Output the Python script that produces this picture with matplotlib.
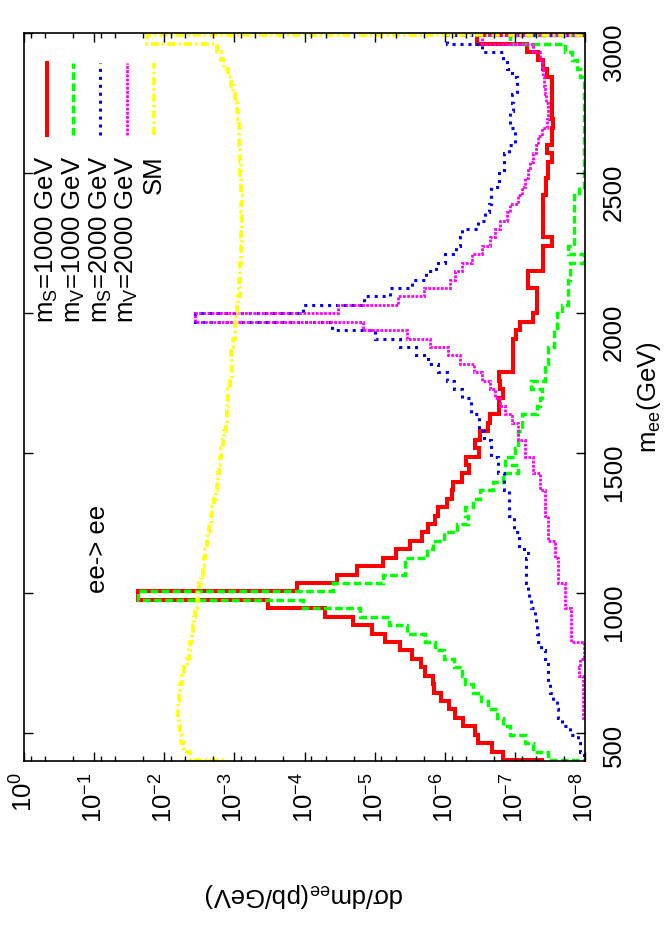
import numpy as np
import matplotlib
matplotlib.use('Agg')
import matplotlib.pyplot as plt
from matplotlib.ticker import LogLocator, MultipleLocator, NullFormatter, LogFormatterMathtext

plt.rcParams['font.family'] = ['Liberation Sans', 'DejaVu Sans']
plt.rcParams['mathtext.fontset'] = 'custom'
plt.rcParams['mathtext.rm'] = 'Liberation Sans'
plt.rcParams['mathtext.it'] = 'Liberation Sans'
plt.rcParams['mathtext.bf'] = 'Liberation Sans:bold'
plt.rcParams['mathtext.default'] = 'regular'

# histogram bin edges in m_ee (GeV); first and last bin lie outside the plotted range
m_edges = np.linspace(373.5, 3022.3, 89)

# dsigma/dm_ee (pb/GeV) per bin
ms1000 = [4.1e-8,
          1.46e-7, 2.13e-7, 3.41e-7, 3.68e-7, 5.41e-7, 7.11e-7, 8.75e-7, 1.13e-6, 1.42e-6, 1.48e-6,
          1.90e-6, 2.19e-6, 2.95e-6, 4.33e-6, 7.08e-6, 1.10e-5, 2.01e-5, 5.08e-5, 3.31e-4, 2.36e-2,
          1.29e-4, 3.46e-5, 1.80e-5, 7.48e-6, 4.94e-6, 3.12e-6, 2.12e-6, 1.71e-6, 1.37e-6, 1.23e-6,
          9.33e-7, 7.92e-7, 7.66e-7, 5.70e-7, 4.44e-7, 4.95e-7, 3.30e-7, 3.68e-7, 3.13e-7, 2.38e-7,
          2.25e-7, 1.71e-7, 1.71e-7, 1.46e-7, 1.62e-7, 1.71e-7, 1.07e-7, 1.07e-7, 1.07e-7, 1.07e-7,
          9.58e-8, 8.40e-8, 5.43e-8, 4.86e-8, 4.86e-8, 4.86e-8, 6.40e-8, 6.40e-8, 3.99e-8, 3.99e-8,
          3.99e-8, 2.97e-8, 4.0e-8, 4.0e-8, 4.0e-8, 4.0e-8, 4.0e-8, 3.61e-8, 3.61e-8, 3.32e-8,
          3.32e-8, 2.97e-8, 3.49e-8, 2.97e-8, 2.97e-8, 2.84e-8, 2.97e-8, 2.97e-8, 2.97e-8, 2.97e-8,
          2.97e-8, 3.49e-8, 3.91e-8, 4.61e-8, 6.75e-8, 3.48e-7,
          1e-12]

mv1000 = [1e-12,
          3.32e-8, 5.43e-8, 7.13e-8, 1.17e-7, 1.46e-7, 1.81e-7, 2.38e-7, 3.06e-7, 3.90e-7, 5.12e-7,
          5.70e-7, 7.34e-7, 1.02e-6, 1.37e-6, 1.90e-6, 3.47e-6, 6.15e-6, 1.61e-5, 1.05e-4, 2.36e-2,
          3.87e-5, 7.48e-6, 3.67e-6, 3.67e-6, 1.80e-6, 1.45e-6, 1.04e-6, 6.72e-7, 4.59e-7, 5.12e-7,
          3.90e-7, 3.13e-7, 2.02e-7, 1.46e-7, 8.89e-8, 1.37e-7, 9.91e-8, 8.89e-8, 8.89e-8, 7.94e-8,
          7.94e-8, 4.86e-8, 4.36e-8, 4.12e-8, 5.91e-8, 3.70e-8, 3.70e-8, 3.32e-8, 3.32e-8, 2.81e-8,
          2.81e-8, 2.52e-8, 2.52e-8, 2.14e-8, 1.72e-8, 1.72e-8, 1.72e-8, 1.63e-8, 1.63e-8, 1.05e-8,
          1.72e-8, 1.43e-8, 1.43e-8, 1.43e-8, 1.43e-8, 1.43e-8, 1.43e-8, 1.21e-8, 1.05e-8, 1.05e-8,
          1.05e-8, 1.05e-8, 1.03e-8, 1.03e-8, 1.03e-8, 1.03e-8, 1.03e-8, 1.03e-8, 1.03e-8, 1.03e-8,
          1.03e-8, 1.17e-8, 1.31e-8, 1.54e-8, 1.92e-8, 1.17e-7,
          1e-12]

ms2000 = [1e-12,
          1.05e-8, 1.17e-8, 1.26e-8, 1.63e-8, 2.11e-8, 2.40e-8, 2.5e-8, 2.84e-8, 3.13e-8, 3.35e-8,
          3.35e-8, 3.35e-8, 3.70e-8, 4.22e-8, 4.65e-8, 4.8e-8, 5.0e-8, 5.15e-8, 5.9e-8, 6.3e-8,
          6.5e-8, 6.9e-8, 6.9e-8, 6.9e-8, 6.5e-8, 8.8e-8, 8.8e-8, 1.04e-7, 1.04e-7, 1.2e-7,
          1.2e-7, 1.2e-7, 1.42e-7, 1.42e-7, 1.76e-7, 1.76e-7, 2.18e-7, 2.18e-7, 2.79e-7, 3.23e-7,
          3.23e-7, 4.2e-7, 4.2e-7, 5.7e-7, 7.3e-7, 9.2e-7, 1.26e-6, 1.72e-6, 2.56e-6, 4.3e-6,
          9.8e-6, 4.04e-5, 3.6e-3, 1.04e-4, 1.44e-5, 6.0e-6, 2.9e-6, 1.87e-6, 1.35e-6, 9.8e-7,
          7.0e-7, 6.0e-7, 5.7e-7, 3.4e-7, 2.7e-7, 2.33e-7, 2.18e-7, 2.18e-7, 1.7e-7, 1.7e-7,
          1.44e-7, 1.44e-7, 1.23e-7, 1.0e-7, 1.0e-7, 1.17e-7, 1.17e-7, 1.08e-7, 1.1e-7, 9.4e-8,
          9.4e-8, 1.1e-7, 1.29e-7, 1.5e-7, 2.9e-7, 9.3e-7,
          1e-12]

mv2000 = [1e-12,
          1e-12, 1e-12, 1e-12, 1e-12, 1e-12, 1.07e-8, 1.07e-8, 1.07e-8, 1.07e-8, 1.07e-8,
          1.2e-8, 1.17e-8, 1.02e-8, 1.02e-8, 1.58e-8, 1.58e-8, 1.58e-8, 1.58e-8, 1.9e-8, 1.9e-8,
          1.9e-8, 2.4e-8, 2.4e-8, 2.4e-8, 2.66e-8, 2.66e-8, 3.35e-8, 3.35e-8, 3.35e-8, 3.7e-8,
          3.7e-8, 3.7e-8, 4.36e-8, 4.36e-8, 5.5e-8, 5.5e-8, 7.1e-8, 7.1e-8, 9.0e-8, 9.0e-8,
          1.1e-7, 1.38e-7, 1.62e-7, 1.9e-7, 2.24e-7, 2.94e-7, 3.8e-7, 6.0e-7, 8.9e-7, 1.62e-6,
          3.5e-6, 1.46e-5, 3.6e-3, 3.28e-5, 4.6e-6, 2.0e-6, 8.4e-7, 7.1e-7, 5.6e-7, 4.1e-7,
          2.94e-7, 2.24e-7, 1.9e-7, 1.62e-7, 1.29e-7, 1.17e-7, 9.0e-8, 7.9e-8, 7.1e-8, 6.5e-8,
          6.1e-8, 5.5e-8, 5.0e-8, 4.65e-8, 4.1e-8, 3.5e-8, 3.35e-8, 3.35e-8, 3.6e-8, 3.7e-8,
          3.8e-8, 4.0e-8, 4.1e-8, 4.36e-8, 5.5e-8, 2.9e-7,
          1e-12]

sm = [1.27e-3,
      4.28e-3, 5.22e-3, 5.76e-3, 5.95e-3, 6.15e-3, 6.35e-3, 6.35e-3, 6.15e-3, 5.95e-3, 5.57e-3,
      5.22e-3, 4.73e-3, 4.43e-3, 4.28e-3, 4.01e-3, 3.88e-3, 3.76e-3, 3.64e-3, 3.40e-3, 3.30e-3,
      3.19e-3, 2.99e-3, 2.80e-3, 2.71e-3, 2.62e-3, 2.45e-3, 2.37e-3, 2.30e-3, 2.15e-3, 2.08e-3,
      1.95e-3, 1.82e-3, 1.77e-3, 1.71e-3, 1.65e-3, 1.60e-3, 1.55e-3, 1.45e-3, 1.40e-3, 1.31e-3,
      1.27e-3, 1.27e-3, 1.23e-3, 1.23e-3, 1.15e-3, 1.08e-3, 1.08e-3, 1.08e-3, 1.11e-3, 1.04e-3,
      9.77e-4, 9.77e-4, 9.46e-4, 9.15e-4, 8.85e-4, 8.29e-4, 8.57e-4, 8.29e-4, 8.29e-4, 8.02e-4,
      8.02e-4, 7.76e-4, 8.02e-4, 7.76e-4, 7.76e-4, 8.02e-4, 7.76e-4, 8.02e-4, 8.02e-4, 8.29e-4,
      8.02e-4, 8.29e-4, 8.29e-4, 8.57e-4, 8.57e-4, 8.57e-4, 8.85e-4, 9.15e-4, 9.77e-4, 1.04e-3,
      1.11e-3, 1.23e-3, 1.40e-3, 1.55e-3, 1.77e-3, 1.76e-2,
      1e-12]

labels = ['m$_S$=1000 GeV', 'm$_V$=1000 GeV', 'm$_S$=2000 GeV', 'm$_V$=2000 GeV', 'SM']
series = [ms1000, mv1000, ms2000, mv2000, sm]
colors = ['#ff0000', '#00ff00', '#0000ff', '#ff00ff', '#ffff00']
widths = [2.9, 2.5, 2.2, 2.0, 2.6]
dashes = ['-', (0, (2.2, 1.0)), (0, (1.0, 1.6)), (0, (1.0, 0.5)), (0, (2.2, 0.9, 0.6, 0.9))]

fs = 18.5

fig = plt.figure(figsize=(6.67, 9.43), dpi=100)
ax = fig.add_axes([24/667, 1-761/943, 561/667, 728/943])

for vals, col, lw, ls in zip(series, colors, widths, dashes):
    ax.stairs(vals, m_edges, orientation='horizontal', baseline=None,
              color=col, lw=lw, linestyle=ls)

ax.set_xscale('log')
ax.set_xlim(1, 1e-8)
ax.set_ylim(400, 3000)

ax.xaxis.set_major_locator(LogLocator(base=10, numticks=20))
ax.xaxis.set_minor_locator(LogLocator(base=10, subs=(2, 5, 8), numticks=20))
ax.xaxis.set_minor_formatter(NullFormatter())
ax.xaxis.set_major_formatter(LogFormatterMathtext())
ax.yaxis.set_major_locator(MultipleLocator(500))

ax.tick_params(axis='both', which='both', direction='in', top=True, bottom=True,
               left=True, right=True, labelleft=False, labelright=True, width=1.0)
ax.tick_params(axis='both', which='major', length=6.5, labelsize=fs)
ax.tick_params(axis='both', which='minor', length=3.5)
ax.tick_params(axis='x', labelrotation=90, pad=8)
ax.tick_params(axis='y', labelrotation=90, pad=12)
for s in ax.spines.values():
    s.set_linewidth(1.2)

ax.set_xlabel('d\u03c3/dm$_{ee}$(pb/GeV)', fontsize=fs, rotation=180)
ax.xaxis.set_label_coords(0.5, -0.165)
ax.yaxis.set_label_position('right')
ax.set_ylabel('m$_{ee}$(GeV)', fontsize=fs, rotation=90)
ax.yaxis.set_label_coords(1.09, 0.5)

# legend drawn by hand, rotated like the rest of the page
for i, (lab, col, lw, ls) in enumerate(zip(labels, colors, widths, dashes)):
    xs = (46.7 + 26.7 * i - 24) / 561
    ax.plot([xs, xs], [0.860, 0.959], transform=ax.transAxes, clip_on=False,
            color=col, lw=lw, linestyle=ls)
    ax.text(xs + 0.013, 0.832, lab, transform=ax.transAxes, rotation=90,
            rotation_mode='anchor', ha='right', va='baseline', fontsize=fs)

ax.text(0.07, 1000, 'ee-> ee', rotation=90, rotation_mode='anchor',
        ha='left', va='baseline', fontsize=fs)

fig.savefig('out.png', dpi=100)
